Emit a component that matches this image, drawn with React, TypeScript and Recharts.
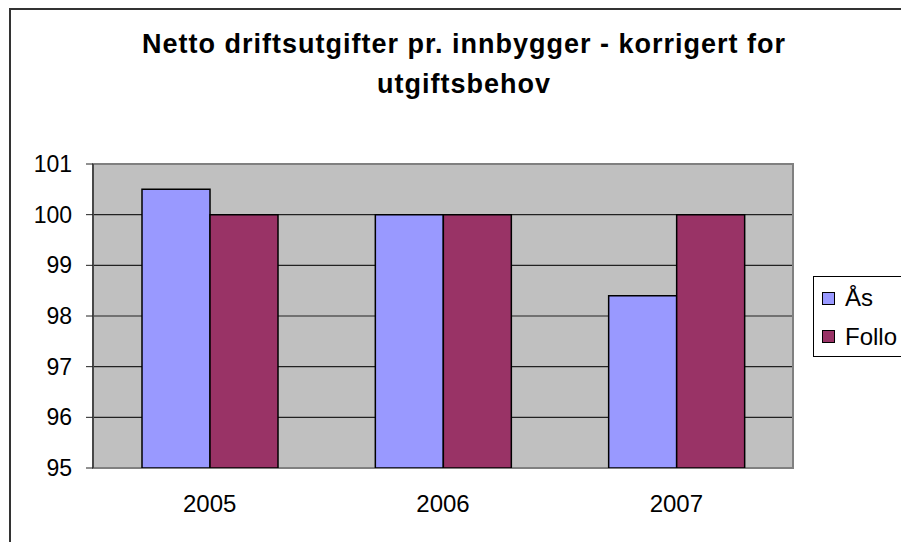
import React from "react";
import {
  BarChart,
  Bar,
  XAxis,
  YAxis,
  CartesianGrid,
  ReferenceArea,
} from "recharts";

const years = ["2005", "2006", "2007"];
const asValues = [100.5, 100, 98.4];
const folloValues = [100, 100, 100];
const yTicks = [95, 96, 97, 98, 99, 100, 101];
const edgeTicks = [0, 1, 2, 3];

const series = [
  { key: "as", name: "Ås", color: "#9999FF" },
  { key: "follo", name: "Follo", color: "#993366" },
];

const data = years.map((year, i) => ({
  year,
  as: asValues[i],
  follo: folloValues[i],
}));

const FONT = "'Liberation Sans', Arial, sans-serif";
const xTickStyle = { fontSize: 24, fill: "#000", fontFamily: FONT };
const yTickStyle = { fontSize: 23, fill: "#000", fontFamily: FONT };

const App: React.FC = () => {
  return (
    <div
      style={{
        position: "absolute",
        left: 0,
        top: 0,
        width: 901,
        height: 542,
        overflow: "hidden",
        background: "#fff",
        fontFamily: FONT,
      }}
    >
      <div
        style={{
          position: "absolute",
          left: 9,
          top: 8,
          width: 1000,
          height: 1000,
          border: "2px solid #333",
          boxSizing: "border-box",
        }}
      />
      <div
        style={{
          position: "absolute",
          left: 0,
          top: 24,
          width: 928,
          textAlign: "center",
          fontWeight: "bold",
          fontSize: 27,
          letterSpacing: 1,
          lineHeight: "40px",
        }}
      >
        Netto driftsutgifter pr. innbygger - korrigert for
        <br />
        utgiftsbehov
      </div>
      <div style={{ position: "absolute", left: 0, top: 0 }}>
        <BarChart
          width={901}
          height={542}
          data={data}
          margin={{ top: 164, right: 108, bottom: 44, left: 33 }}
          barCategoryGap="21%"
          barGap={0}
        >
          <CartesianGrid
            xAxisId="cat"
            vertical={false}
            fill="#C0C0C0"
            fillOpacity={1}
            stroke="#222"
            strokeWidth={1.2}
          />
          <ReferenceArea
            xAxisId="cat"
            y1={95}
            y2={101}
            fill="none"
            stroke="#808080"
            strokeWidth={2}
          />
          <XAxis
            xAxisId="edges"
            type="number"
            domain={[0, 3]}
            ticks={edgeTicks}
            height={0}
            tick={false}
            tickSize={8}
            axisLine={{ stroke: "#222", strokeWidth: 1.5 }}
            tickLine={{ stroke: "#222" }}
          />
          <XAxis
            xAxisId="cat"
            dataKey="year"
            height={30}
            axisLine={false}
            tickLine={false}
            tickSize={0}
            tickMargin={27}
            tick={xTickStyle}
          />
          <YAxis
            width={60}
            domain={[95, 101]}
            ticks={yTicks}
            interval={0}
            allowDataOverflow
            tickSize={7}
            tickMargin={14}
            tick={yTickStyle}
            axisLine={{ stroke: "#222", strokeWidth: 1.2 }}
            tickLine={{ stroke: "#222" }}
          />
          {series.map((s) => (
            <Bar
              key={s.key}
              xAxisId="cat"
              dataKey={s.key}
              name={s.name}
              fill={s.color}
              stroke="#000"
              strokeWidth={1.5}
              isAnimationActive={false}
            />
          ))}
        </BarChart>
      </div>
      <div
        style={{
          position: "absolute",
          left: 813,
          top: 276,
          width: 120,
          height: 81,
          border: "1px solid #000",
          boxSizing: "border-box",
          background: "#fff",
          paddingTop: 2,
          paddingLeft: 8,
        }}
      >
        {series.map((s) => (
          <div
            key={s.key}
            style={{
              display: "flex",
              alignItems: "center",
              height: 38.5,
              fontSize: 24,
            }}
          >
            <span
              style={{
                display: "inline-block",
                width: 13,
                height: 13,
                background: s.color,
                border: "1.5px solid #000",
                boxSizing: "border-box",
                marginRight: 10,
              }}
            />
            {s.name}
          </div>
        ))}
      </div>
    </div>
  );
};

export default App;
